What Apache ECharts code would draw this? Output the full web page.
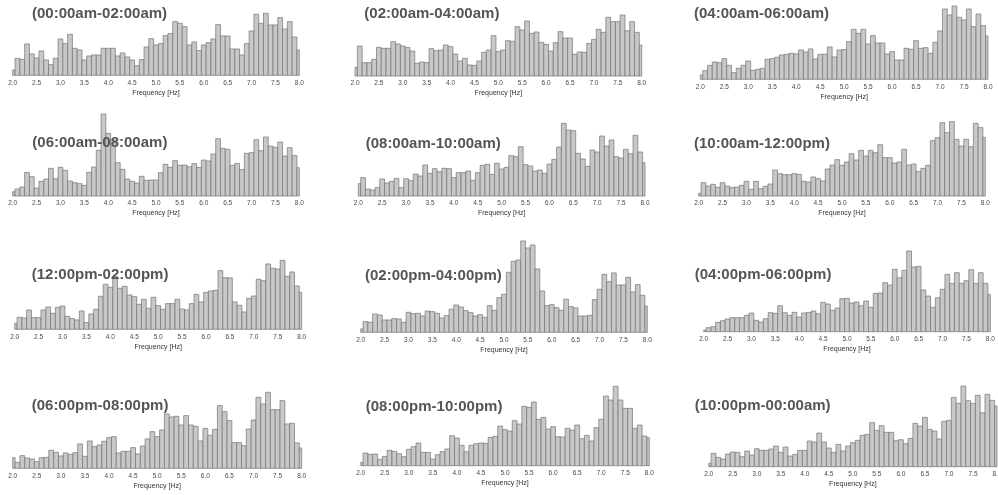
<!DOCTYPE html>
<html>
<head>
<meta charset="utf-8">
<script src="https://cdn.jsdelivr.net/npm/echarts@6/dist/echarts.min.js"></script>
<style>
  html, body { margin: 0; padding: 0; background: #ffffff; }
  #chart { width: 998px; height: 495px; }
</style>
</head>
<body>
<div id="chart"></div>
<script>
// Bin centres in Hz (0.1 Hz bins, half bins clipped at 2.0 and 8.0)
const freqBins = [
  2.0, 2.1, 2.2, 2.3, 2.4, 2.5, 2.6, 2.7, 2.8, 2.9,
  3.0, 3.1, 3.2, 3.3, 3.4, 3.5, 3.6, 3.7, 3.8, 3.9,
  4.0, 4.1, 4.2, 4.3, 4.4, 4.5, 4.6, 4.7, 4.8, 4.9,
  5.0, 5.1, 5.2, 5.3, 5.4, 5.5, 5.6, 5.7, 5.8, 5.9,
  6.0, 6.1, 6.2, 6.3, 6.4, 6.5, 6.6, 6.7, 6.8, 6.9,
  7.0, 7.1, 7.2, 7.3, 7.4, 7.5, 7.6, 7.7, 7.8, 7.9,
  8.0
];

// Two-hour periods
const periods = [
  '(00:00am-02:00am)', '(02:00am-04:00am)', '(04:00am-06:00am)',
  '(06:00am-08:00am)', '(08:00am-10:00am)', '(10:00am-12:00pm)',
  '(12:00pm-02:00pm)', '(02:00pm-04:00pm)', '(04:00pm-06:00pm)',
  '(06:00pm-08:00pm)', '(08:00pm-10:00pm)', '(10:00pm-00:00am)'
];

// Axis tick values
const freqTicks = [2.0, 2.5, 3.0, 3.5, 4.0, 4.5, 5.0, 5.5, 6.0, 6.5, 7.0, 7.5, 8.0];

// Histogram counts per period
const h0000 = [16,51,48,94,64,52,73,46,32,51, 109,95,123,81,76,46,58,61,61,81, 81,81,58,67,55,46,29,47,85,110, 91,95,119,125,161,156,146,91,100,74, 91,98,109,152,118,118,79,79,61,95, 133,183,156,186,151,151,173,139,161,115, 76];
const h0200 = [26,90,40,40,50,86,83,83,103,96, 90,86,75,38,42,40,82,76,78,93, 88,66,45,53,33,32,45,71,78,121, 73,78,106,104,148,138,165,128,132,101, 95,75,100,133,114,114,65,72,71,98, 110,140,131,176,163,163,183,136,163,131, 93];
const h0400 = [13,26,42,52,50,62,42,20,33,42, 55,27,30,33,60,62,66,73,75,78, 76,88,82,91,61,75,75,97,67,88, 89,113,150,138,150,106,131,109,109,76, 83,58,58,93,90,116,93,95,78,111, 145,211,193,220,186,178,211,158,196,161, 130];
const h0600 = [13,21,27,71,58,24,44,51,83,52, 86,77,45,40,37,32,71,87,137,246, 188,168,100,80,51,44,39,59,47,48, 48,70,95,86,106,92,93,88,97,86, 108,105,126,172,143,140,92,98,79,128, 130,169,136,177,150,146,162,120,145,121, 85];
const h0800 = [37,55,21,18,25,51,39,44,53,25, 52,46,66,60,93,68,82,73,83,82, 55,70,70,75,47,70,92,95,65,98, 81,86,121,118,148,94,90,75,78,68, 96,110,147,218,198,196,128,111,89,138, 132,180,150,168,118,114,140,127,182,132, 100];
const h1000 = [8,40,30,35,26,40,30,25,27,32, 44,20,44,22,29,36,78,67,64,64, 67,65,44,42,57,52,45,81,93,109, 92,102,127,108,137,120,137,130,154,115, 115,99,102,140,93,96,73,83,92,166, 175,220,190,223,170,150,170,148,218,205, 176];
const h1200 = [18,36,34,58,35,35,58,67,48,66, 70,39,32,28,55,20,46,60,99,135, 126,158,123,129,103,98,75,90,63,96, 71,60,77,77,90,61,58,77,105,82, 111,115,117,176,155,154,82,72,52,93, 100,150,146,196,183,181,207,159,172,130, 111];
const h1400 = [10,32,30,55,52,37,37,41,40,30, 60,56,57,49,64,62,57,43,50,69, 82,76,65,59,49,53,45,80,66,104, 114,180,213,217,274,253,262,190,124,80, 83,74,66,99,77,73,49,49,51,98, 129,174,152,178,142,142,165,121,143,111, 79];
const h1600 = [5,12,15,28,33,38,42,42,42,49, 56,34,29,39,57,55,78,57,49,58, 44,56,58,62,54,88,83,64,71,99, 100,86,89,78,92,73,115,116,147,140, 187,162,184,242,194,196,125,107,73,102, 127,172,145,177,145,153,186,145,177,145, 112];
const h1800 = [32,18,38,31,28,20,32,33,54,48, 37,46,42,47,73,36,82,65,70,81, 92,95,46,51,51,62,43,67,88,110, 95,115,163,154,156,130,158,130,126,82, 120,99,117,188,170,143,77,77,68,118, 145,213,193,228,176,176,203,133,135,76, 61];
const h2000 = [10,38,34,35,19,28,46,43,36,27, 49,57,68,40,40,20,33,42,50,90, 83,61,42,61,66,68,67,85,88,119, 108,104,135,125,178,175,191,139,145,110, 117,87,86,112,107,122,81,91,74,114, 139,209,197,238,197,172,172,112,122,89, 84];
const h2200 = [10,40,28,23,38,44,43,30,47,35, 54,49,49,53,62,43,59,32,37,49, 49,77,74,101,74,56,43,67,47,62, 72,79,94,97,132,109,123,103,103,78, 81,69,85,130,122,148,112,107,83,136, 139,208,190,242,198,190,214,162,217,199, 182];

const histograms = [h0000, h0200, h0400, h0600, h0800, h1000, h1200, h1400, h1600, h1800, h2000, h2200];

// Panel layout: plot left/right edges, baseline, title anchor
const panelLeft     = [12.7, 355, 700.3, 12.7, 358.3, 698.7, 14.7, 360.7, 703.7, 12.7, 360.7, 708.7];
const panelRight    = [299.3, 641.7, 988, 299.3, 645, 985.3, 301.7, 647.3, 990.3, 301.7, 649.3, 997];
const panelBase     = [75.3, 76, 79.3, 196, 196, 196, 329.3, 332.3, 331.7, 468.3, 465.7, 466.7];
const titleX        = [32, 364.3, 694, 32.3, 365.7, 694, 31.7, 365, 694.7, 31.7, 365.7, 694.7];
const titleY        = [13.7, 14.3, 14, 143.3, 144.3, 144, 275, 276, 275, 405.7, 406.7, 405.7];

const CH_H = 495;
const PLOT_H = 100;      // pixel height of each plot area
const Y_MAX = 300;       // count scale spanning the plot height

const chart = echarts.init(document.getElementById('chart'), null, { renderer: 'canvas' });

const grids = [], xAxes = [], yAxes = [], series = [], texts = [];

histograms.forEach((counts, i) => {
  grids.push({
    left: panelLeft[i],
    width: panelRight[i] - panelLeft[i],
    bottom: CH_H - panelBase[i],
    height: PLOT_H,
    containLabel: false,
    outerBoundsMode: 'none'
  });
  xAxes.push({
    gridIndex: i,
    type: 'value',
    min: freqTicks[0],
    max: freqTicks[freqTicks.length - 1],
    interval: 0.5,
    axisLine: { show: false },
    axisTick: { show: false },
    splitLine: { show: false },
    axisLabel: {
      show: true,
      margin: 4,
      fontSize: 6.5,
      color: '#4a4a4a',
      fontFamily: 'Liberation Sans',
      formatter: v => v.toFixed(1)
    },
    name: 'Frequency [Hz]',
    nameLocation: 'middle',
    nameGap: 14,
    nameTextStyle: { fontSize: 7, color: '#333', fontFamily: 'Liberation Sans' }
  });
  yAxes.push({
    gridIndex: i,
    type: 'value',
    min: 0,
    max: Y_MAX,
    show: false,
    splitLine: { show: false }
  });
  series.push({
    type: 'custom',
    xAxisIndex: i,
    yAxisIndex: i,
    z: 2,
    clip: false,
    data: freqBins.map((f, k) => [f, counts[k]]),
    renderItem: (params, api) => {
      const c = api.value(0), v = api.value(1);
      const lo = Math.max(c - 0.05, freqTicks[0]);
      const hi = Math.min(c + 0.05, freqTicks[freqTicks.length - 1]);
      const p0 = api.coord([lo, v]);
      const p1 = api.coord([hi, 0]);
      return {
        type: 'rect',
        shape: { x: p0[0], y: p0[1], width: p1[0] - p0[0], height: p1[1] - p0[1] },
        style: { fill: '#c8c8c8', stroke: '#747474', lineWidth: 0.7 }
      };
    }
  });
  texts.push({
    type: 'text',
    x: titleX[i],
    y: titleY[i],
    z: 100,
    style: {
      text: periods[i],
      fill: '#555555',
      font: 'bold 15px "Liberation Sans", Arial, sans-serif',
      verticalAlign: 'middle',
      align: 'left'
    }
  });
});

chart.setOption({
  animation: false,
  backgroundColor: '#ffffff',
  grid: grids,
  xAxis: xAxes,
  yAxis: yAxes,
  series: series,
  graphic: texts
});
</script>
</body>
</html>
